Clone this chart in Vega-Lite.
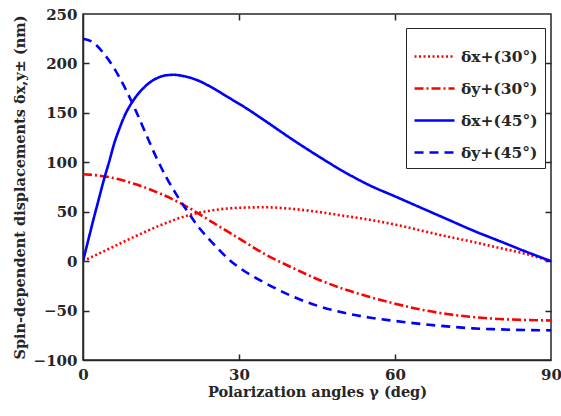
{
  "$schema": "https://vega.github.io/schema/vega-lite/v6.json",
  "autosize": "none",
  "width": 468,
  "height": 346,
  "padding": {"left": 83, "top": 14, "right": 10, "bottom": 56},
  "background": "white",
  "config": {
    "font": "DejaVu Serif",
    "view": {"stroke": "#262626", "strokeWidth": 1.5},
    "axis": {
      "labelFont": "DejaVu Serif", "labelFontSize": 15, "labelFontWeight": "bold", "labelColor": "#262626",
      "titleFont": "DejaVu Serif", "titleFontSize": 14.5, "titleFontWeight": "bold", "titleColor": "#262626",
      "domainColor": "#262626", "domainWidth": 1.5, "tickColor": "#262626", "tickWidth": 1.5, "tickSize": 6,
      "grid": false
    }
  },
  "datasets": {"curves": [
    {"g": 0, "v": 0, "s": "δx+(30°)"}, {"g": 5, "v": 12.5, "s": "δx+(30°)"}, {"g": 10, "v": 25, "s": "δx+(30°)"}, {"g": 15, "v": 36.5, "s": "δx+(30°)"}, {"g": 20, "v": 46, "s": "δx+(30°)"}, {"g": 25, "v": 51.5, "s": "δx+(30°)"}, {"g": 30, "v": 54, "s": "δx+(30°)"}, {"g": 35, "v": 54.5, "s": "δx+(30°)"}, {"g": 40, "v": 53, "s": "δx+(30°)"}, {"g": 45, "v": 50, "s": "δx+(30°)"}, {"g": 50, "v": 46, "s": "δx+(30°)"}, {"g": 55, "v": 42, "s": "δx+(30°)"}, {"g": 60, "v": 37, "s": "δx+(30°)"}, {"g": 65, "v": 31, "s": "δx+(30°)"}, {"g": 70, "v": 25, "s": "δx+(30°)"}, {"g": 75, "v": 19.5, "s": "δx+(30°)"}, {"g": 80, "v": 13.5, "s": "δx+(30°)"}, {"g": 85, "v": 7.5, "s": "δx+(30°)"}, {"g": 90, "v": 0, "s": "δx+(30°)"},
    {"g": 0, "v": 88, "s": "δy+(30°)"}, {"g": 5, "v": 85, "s": "δy+(30°)"}, {"g": 10, "v": 78, "s": "δy+(30°)"}, {"g": 15, "v": 68, "s": "δy+(30°)"}, {"g": 20, "v": 55, "s": "δy+(30°)"}, {"g": 25, "v": 39, "s": "δy+(30°)"}, {"g": 30, "v": 23, "s": "δy+(30°)"}, {"g": 35, "v": 7, "s": "δy+(30°)"}, {"g": 40, "v": -6, "s": "δy+(30°)"}, {"g": 45, "v": -18, "s": "δy+(30°)"}, {"g": 50, "v": -28, "s": "δy+(30°)"}, {"g": 55, "v": -36, "s": "δy+(30°)"}, {"g": 60, "v": -43, "s": "δy+(30°)"}, {"g": 65, "v": -49, "s": "δy+(30°)"}, {"g": 70, "v": -53.5, "s": "δy+(30°)"}, {"g": 75, "v": -56.5, "s": "δy+(30°)"}, {"g": 80, "v": -58.5, "s": "δy+(30°)"}, {"g": 85, "v": -59.5, "s": "δy+(30°)"}, {"g": 90, "v": -60, "s": "δy+(30°)"},
    {"g": 0, "v": 0, "s": "δx+(45°)"}, {"g": 1, "v": 21, "s": "δx+(45°)"}, {"g": 2, "v": 42, "s": "δx+(45°)"}, {"g": 3, "v": 62, "s": "δx+(45°)"}, {"g": 4, "v": 82, "s": "δx+(45°)"}, {"g": 5, "v": 100, "s": "δx+(45°)"}, {"g": 6, "v": 119, "s": "δx+(45°)"}, {"g": 7, "v": 134, "s": "δx+(45°)"}, {"g": 8, "v": 147, "s": "δx+(45°)"}, {"g": 9, "v": 157, "s": "δx+(45°)"}, {"g": 10, "v": 165, "s": "δx+(45°)"}, {"g": 12, "v": 177, "s": "δx+(45°)"}, {"g": 14, "v": 184.5, "s": "δx+(45°)"}, {"g": 16, "v": 188, "s": "δx+(45°)"}, {"g": 17.5, "v": 188.5, "s": "δx+(45°)"}, {"g": 19, "v": 187.5, "s": "δx+(45°)"}, {"g": 22, "v": 183, "s": "δx+(45°)"}, {"g": 25, "v": 175, "s": "δx+(45°)"}, {"g": 28, "v": 165.5, "s": "δx+(45°)"}, {"g": 31, "v": 156, "s": "δx+(45°)"}, {"g": 35, "v": 142, "s": "δx+(45°)"}, {"g": 40, "v": 124, "s": "δx+(45°)"}, {"g": 45, "v": 107, "s": "δx+(45°)"}, {"g": 50, "v": 91, "s": "δx+(45°)"}, {"g": 55, "v": 77, "s": "δx+(45°)"}, {"g": 60, "v": 65.5, "s": "δx+(45°)"}, {"g": 65, "v": 54, "s": "δx+(45°)"}, {"g": 70, "v": 42.5, "s": "δx+(45°)"}, {"g": 75, "v": 31, "s": "δx+(45°)"}, {"g": 80, "v": 20.5, "s": "δx+(45°)"}, {"g": 85, "v": 10, "s": "δx+(45°)"}, {"g": 90, "v": 0, "s": "δx+(45°)"},
    {"g": 0, "v": 225, "s": "δy+(45°)"}, {"g": 2, "v": 221, "s": "δy+(45°)"}, {"g": 4, "v": 210, "s": "δy+(45°)"}, {"g": 6, "v": 195, "s": "δy+(45°)"}, {"g": 8, "v": 176, "s": "δy+(45°)"}, {"g": 10, "v": 154, "s": "δy+(45°)"}, {"g": 12, "v": 130, "s": "δy+(45°)"}, {"g": 14, "v": 106, "s": "δy+(45°)"}, {"g": 16, "v": 85, "s": "δy+(45°)"}, {"g": 18, "v": 67, "s": "δy+(45°)"}, {"g": 20, "v": 51, "s": "δy+(45°)"}, {"g": 22, "v": 36, "s": "δy+(45°)"}, {"g": 25, "v": 18, "s": "δy+(45°)"}, {"g": 28, "v": 2, "s": "δy+(45°)"}, {"g": 31, "v": -10, "s": "δy+(45°)"}, {"g": 35, "v": -22, "s": "δy+(45°)"}, {"g": 40, "v": -35, "s": "δy+(45°)"}, {"g": 45, "v": -45, "s": "δy+(45°)"}, {"g": 50, "v": -52, "s": "δy+(45°)"}, {"g": 55, "v": -57, "s": "δy+(45°)"}, {"g": 60, "v": -60.5, "s": "δy+(45°)"}, {"g": 65, "v": -63.5, "s": "δy+(45°)"}, {"g": 70, "v": -66, "s": "δy+(45°)"}, {"g": 75, "v": -68, "s": "δy+(45°)"}, {"g": 80, "v": -69, "s": "δy+(45°)"}, {"g": 85, "v": -69.7, "s": "δy+(45°)"}, {"g": 90, "v": -70, "s": "δy+(45°)"}
  ]},
  "data": {"name": "curves"},
  "resolve": {"axis": {"x": "independent", "y": "independent"}},
  "layer": [
    {
      "mark": {"type": "line", "strokeWidth": 2.6, "interpolate": "monotone", "clip": true},
      "encoding": {
        "x": {"field": "g", "type": "quantitative", "scale": {"domain": [0, 90], "nice": false, "zero": false},
              "axis": {"orient": "bottom", "values": [0, 30, 60, 90], "ticks": false, "title": "Polarization angles γ (deg)", "labelPadding": 7, "titlePadding": 3, "labelFlush": false}},
        "y": {"field": "v", "type": "quantitative", "scale": {"domain": [-100, 250], "nice": false},
              "axis": {"orient": "left", "values": [-100, -50, 0, 50, 100, 150, 200, 250], "ticks": false, "title": "Spin-dependent displacements δx,y± (nm)", "labelPadding": 6, "titlePadding": 6, "labelFlush": false}},
        "color": {"field": "s", "type": "nominal",
                  "scale": {"domain": ["δx+(30°)", "δy+(30°)", "δx+(45°)", "δy+(45°)"], "range": ["#ff0000", "#ff0000", "#0000ff", "#0000ff"]},
                  "legend": {"title": null, "orient": "none", "legendX": 323, "legendY": 14, "symbolType": "stroke", "symbolSize": 1600, "symbolStrokeWidth": 2.6,
                             "labelFont": "DejaVu Serif", "labelFontSize": 15.5, "labelFontWeight": "bold", "labelColor": "#262626",
                             "strokeColor": "#262626", "padding": 7, "rowPadding": 2, "fillColor": "white", "labelOffset": 5}},
        "strokeDash": {"field": "s", "type": "nominal",
                       "scale": {"domain": ["δx+(30°)", "δy+(30°)", "δx+(45°)", "δy+(45°)"], "range": [[2, 2.5], [9, 3, 2, 3], [1, 0], [9, 6]]},
                       "legend": null}
      }
    },
    {
      "mark": {"type": "point", "opacity": 0},
      "encoding": {
        "x": {"field": "g", "type": "quantitative", "scale": {"domain": [0, 90], "nice": false, "zero": false},
              "axis": {"orient": "top", "offset": -346, "values": [30, 60], "labels": false, "title": null, "domain": false}},
        "y": {"field": "v", "type": "quantitative", "scale": {"domain": [-100, 250], "nice": false},
              "axis": {"orient": "right", "offset": -468, "values": [-50, 0, 50, 100, 150, 200], "labels": false, "title": null, "domain": false}}
      }
    },
    {
      "mark": {"type": "point", "opacity": 0},
      "encoding": {
        "x": {"field": "g", "type": "quantitative", "scale": {"domain": [0, 90], "nice": false, "zero": false},
              "axis": {"orient": "bottom", "offset": -346, "values": [30, 60], "labels": false, "title": null, "domain": false}},
        "y": {"field": "v", "type": "quantitative", "scale": {"domain": [-100, 250], "nice": false},
              "axis": {"orient": "left", "offset": -468, "values": [-50, 0, 50, 100, 150, 200], "labels": false, "title": null, "domain": false}}
      }
    }
  ]
}
